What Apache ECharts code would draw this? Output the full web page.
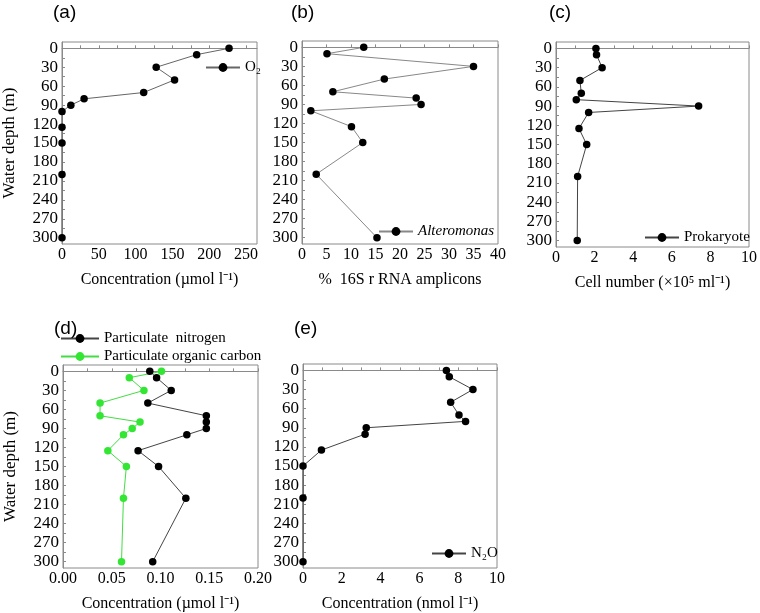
<!DOCTYPE html>
<html>
<head>
<meta charset="utf-8">
<script src="https://cdn.jsdelivr.net/npm/echarts@6/dist/echarts.min.js"></script>
<style>html,body{margin:0;padding:0;background:#fff;}#main{width:760px;height:613px;}</style>
</head>
<body>
<div id="main"></div>
<script>
// ---- data ----
const depths = [0, 10, 30, 50, 70, 80, 90, 100, 125, 150, 200, 300];
const oxygen = [227, 183, 128, 153, 111, 30, 12, 0, 0, 0, 0, 0];
const alteromonas = [12.6, 5.1, 35.0, 16.8, 6.3, 23.3, 24.3, 1.8, 10.1, 12.4, 2.9, 15.3];
const prokaryote = [2.07, 2.10, 2.39, 1.24, 1.31, 1.05, 7.39, 1.69, 1.19, 1.59, 1.12, 1.10];
const particulateN = [0.089, 0.096, 0.111, 0.087, 0.147, 0.147, 0.147, 0.127, 0.077, 0.098, 0.126, 0.092];
const particulateOC = [0.101, 0.068, 0.083, 0.038, 0.038, 0.079, 0.071, 0.062, 0.046, 0.065, 0.062, 0.060];
const nitrousOxide = [7.39, 7.54, 8.76, 7.61, 8.04, 8.38, 3.26, 3.20, 0.95, 0, 0, 0];

const depthTicks = [0, 30, 60, 90, 120, 150, 180, 210, 240, 270, 300];
const depthMinorTicks = [15, 45, 75, 105, 135, 165, 195, 225, 255, 285];
const xTicksA = [0, 50, 100, 150, 200, 250];
const xMinorA = [0, 25, 50, 75, 100, 125, 150, 175, 200, 225, 250];
const xTicksB = [0, 5, 10, 15, 20, 25, 30, 35, 40];
const xTicksC = [0, 2, 4, 6, 8, 10];
const xMinorC = [0, 1, 2, 3, 4, 5, 6, 7, 8, 9, 10];
const xTicksD = [0, 0.05, 0.10, 0.15, 0.20];
const xMinorD = [0, 0.025, 0.05, 0.075, 0.1, 0.125, 0.15, 0.175, 0.2];

const serif = 'Liberation Serif';
const axisGray = '#8a8a8a';

function pairs(vals) { return depths.map((d, i) => [vals[i], d]); }

const grids = [
  {left: 62, top: 42, width: 195, height: 202},
  {left: 302, top: 41, width: 196, height: 203},
  {left: 556, top: 42, width: 196, height: 205},
  {left: 63, top: 365, width: 195, height: 204},
  {left: 303, top: 364, width: 194, height: 205}
].map(g => Object.assign(g, {show: true, borderColor: axisGray, borderWidth: 1, containLabel: false}));

function xAxis(gi, max, labels, ticks, name, fmt) {
  return {
    type: 'value', gridIndex: gi, min: 0, max: max,
    name: name, nameLocation: 'middle', nameGap: 28,
    nameTextStyle: {fontFamily: serif, fontSize: 16, color: '#000'},
    axisLine: {show: true, lineStyle: {color: axisGray}},
    axisTick: {show: true, inside: true, length: 3, customValues: ticks, lineStyle: {color: axisGray}},
    axisLabel: {customValues: labels, margin: 3, fontFamily: serif, fontSize: 16, color: '#000',
      formatter: fmt || (v => String(v))},
    splitLine: {show: false}
  };
}
function yAxis(gi, withName) {
  return {
    type: 'value', gridIndex: gi, inverse: true, min: -10, max: 310,
    name: withName ? 'Water depth (m)' : '', nameLocation: 'middle', nameGap: 44,
    nameTextStyle: {fontFamily: serif, fontSize: 17, color: '#000'},
    axisLine: {show: true, lineStyle: {color: axisGray}},
    axisTick: {show: true, inside: true, length: 3, customValues: depthTicks.concat(depthMinorTicks), lineStyle: {color: axisGray}},
    axisLabel: {customValues: depthTicks, margin: 4, fontFamily: serif, fontSize: 17, color: '#000'},
    splitLine: {show: false}
  };
}

function lineSeries(name, vals, gi, color, lineColor) {
  return {
    name: name, type: 'line', xAxisIndex: gi, yAxisIndex: gi,
    data: pairs(vals), symbol: 'circle', symbolSize: 7.5, showSymbol: true,
    lineStyle: {color: lineColor, width: 1},
    itemStyle: {color: color},
    emphasis: {disabled: true}, animation: false, z: 3
  };
}

function legend(names, left, top, extra) {
  return Object.assign({
    data: names, left: left, top: top, orient: 'vertical',
    itemWidth: 34, itemHeight: 11, itemGap: 3, padding: 0,
    textStyle: {fontFamily: serif, fontSize: 15, color: '#000'},
    selectedMode: false
  }, extra || {});
}

const option = {
  backgroundColor: '#fff',
  animation: false,
  title: [
    {text: '(a)', left: 48, top: -2},
    {text: '(b)', left: 286, top: -2},
    {text: '(c)', left: 544, top: -2},
    {text: '(d)', left: 49, top: 314},
    {text: '(e)', left: 289, top: 314}
  ].map(t => Object.assign(t, {textStyle: {fontFamily: 'Liberation Sans', fontSize: 19, fontWeight: 'normal', color: '#000'}})),
  grid: grids,
  xAxis: [
    xAxis(0, 265, xTicksA, xMinorA, 'Concentration (\u00b5mol l\u207b\u00b9)'),
    xAxis(1, 40, xTicksB, xTicksB, '%  16S r RNA amplicons'),
    xAxis(2, 10, xTicksC, xMinorC, 'Cell number (\u00d710\u2075 ml\u207b\u00b9)'),
    xAxis(3, 0.2, xTicksD, xMinorD, 'Concentration (\u00b5mol l\u207b\u00b9)', v => v.toFixed(2)),
    xAxis(4, 10, xTicksC, xMinorC, 'Concentration (nmol l\u207b\u00b9)')
  ],
  yAxis: [yAxis(0, true), yAxis(1, false), yAxis(2, false), yAxis(3, true), yAxis(4, false)],
  legend: [
    legend(['O\u2082'], 205, 60),
    legend(['Alteromonas'], 378, 224, {textStyle: {fontFamily: serif, fontSize: 15, color: '#000', fontStyle: 'italic'}}),
    legend(['Prokaryote'], 644, 230),
    legend(['Particulate  nitrogen', 'Particulate organic carbon'], 60, 331, {itemWidth: 38}),
    legend(['N\u2082O'], 431, 546)
  ],
  series: [
    lineSeries('O\u2082', oxygen, 0, '#000', '#666'),
    lineSeries('Alteromonas', alteromonas, 1, '#000', '#888'),
    lineSeries('Prokaryote', prokaryote, 2, '#000', '#444'),
    lineSeries('Particulate  nitrogen', particulateN, 3, '#000', '#444'),
    lineSeries('Particulate organic carbon', particulateOC, 3, '#33e633', '#44dd44'),
    lineSeries('N\u2082O', nitrousOxide, 4, '#000', '#444')
  ]
};

const chart = echarts.init(document.getElementById('main'), null, {renderer: 'canvas'});
chart.setOption(option);
</script>
</body>
</html>
